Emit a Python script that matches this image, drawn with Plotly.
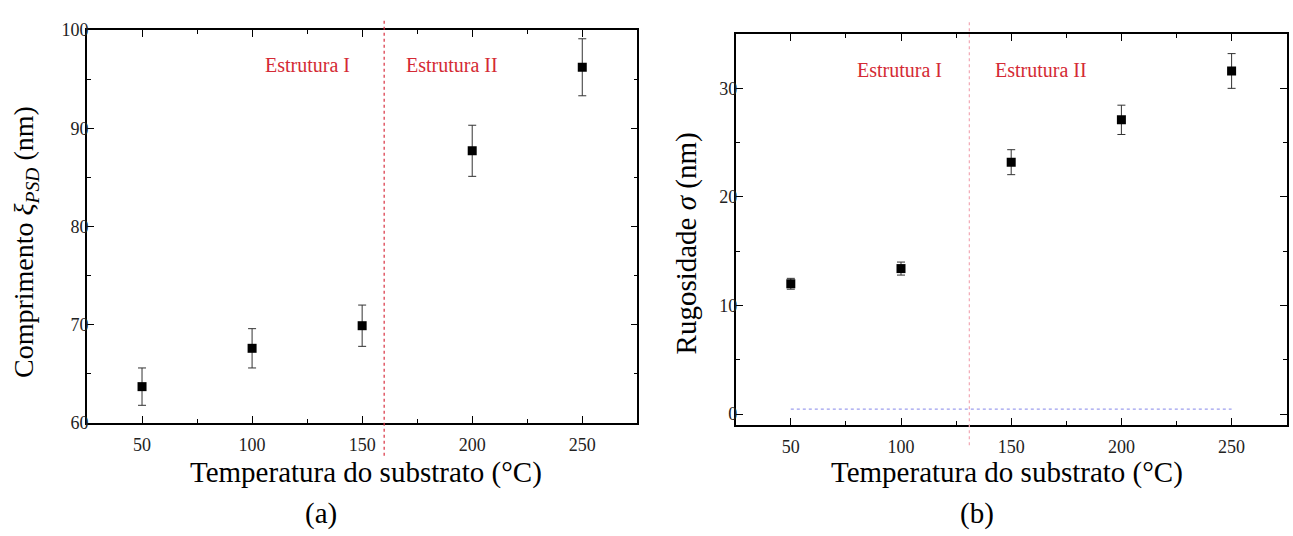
import plotly.graph_objects as go

# ---- data ----
temps = [50, 100, 150, 200, 250]
xi_psd = [63.7, 67.6, 69.9, 87.7, 96.2]
xi_err = [1.9, 2.0, 2.1, 2.6, 2.9]
sigma = [12.0, 13.4, 23.2, 27.1, 31.6]
sigma_err = [0.5, 0.6, 1.15, 1.35, 1.6]
boundary_a = 160
boundary_b = 131
baseline_b = 0.45
xticks = [50, 100, 150, 200, 250]
yticks_a = [60, 70, 80, 90, 100]
yticks_b = [0, 10, 20, 30]

W, H = 1293, 536
FONT = "Liberation Serif"
RED = "#d42a34"

def px_x(p):
    return p / W

def px_y(p):
    return (H - p) / H

fig = go.Figure()

fig.add_trace(go.Scatter(
    x=temps, y=xi_psd, mode="markers", xaxis="x", yaxis="y",
    marker=dict(symbol="square", size=9, color="black"),
    error_y=dict(type="data", array=xi_err, visible=True, color="#333333", thickness=1, width=4),
    showlegend=False))

fig.add_trace(go.Scatter(
    x=temps, y=sigma, mode="markers", xaxis="x2", yaxis="y2",
    marker=dict(symbol="square", size=9, color="black"),
    error_y=dict(type="data", array=sigma_err, visible=True, color="#333333", thickness=1, width=4),
    showlegend=False))

# horizontal dotted baseline on (b)
fig.add_trace(go.Scatter(
    x=[temps[0], temps[-1]], y=[baseline_b, baseline_b], mode="lines", xaxis="x2", yaxis="y2",
    line=dict(color="#9d9fee", width=1.2, dash="dot"), showlegend=False, hoverinfo="skip"))

axis_common = dict(
    showline=True, linecolor="black", linewidth=1.6, mirror="allticks",
    ticks="inside", ticklen=7, tickwidth=1.2, tickcolor="black",
    showgrid=False, zeroline=False,
    tickfont=dict(family=FONT, size=18, color="#222222"),
    minor=dict(ticks="inside", ticklen=4, tickwidth=1.2, tickcolor="black"),
)

fig.update_layout(
    width=W, height=H,
    margin=dict(l=0, r=0, t=0, b=0),
    paper_bgcolor="white", plot_bgcolor="white",
    xaxis=dict(domain=[px_x(87), px_x(637.3)], range=[25, 275], anchor="y",
               tickvals=xticks, minor_dtick=25, minor_tick0=25, ticklabelstandoff=5, **axis_common),
    yaxis=dict(domain=[px_y(429), px_y(20.7)], range=[60, 100], anchor="x",
               tickvals=yticks_a, minor_dtick=5, minor_tick0=0, ticklabelstandoff=-7, **axis_common),
    xaxis2=dict(domain=[px_x(735.7), px_x(1286.7)], range=[25, 275], anchor="y2",
                tickvals=xticks, minor_dtick=25, minor_tick0=25, ticklabelstandoff=5, **axis_common),
    yaxis2=dict(domain=[px_y(431), px_y(25)], range=[-1, 35], anchor="x2",
                tickvals=yticks_b, minor_dtick=5, minor_tick0=0, ticklabelstandoff=-7, **axis_common),
)

# boundary lines
fig.add_shape(type="line", xref="x", yref="paper", x0=boundary_a, x1=boundary_a,
              y0=px_y(463), y1=px_y(10), line=dict(color="#d83040", width=1.2, dash="dot"))
fig.add_shape(type="line", xref="x2", yref="paper", x0=boundary_b, x1=boundary_b,
              y0=px_y(452), y1=px_y(10), line=dict(color="#f2a8b4", width=1.2, dash="dot"))

# region labels
for xr, yr, xv, yv, txt in [
    ("x", "y", 125.3, 96.4, "Estrutura I"),
    ("x", "y", 191.0, 96.4, "Estrutura II"),
    ("x2", "y2", 99.1, 31.7, "Estrutura I"),
    ("x2", "y2", 163.5, 31.7, "Estrutura II"),
]:
    fig.add_annotation(xref=xr, yref=yr, x=xv, y=yv, text=txt, showarrow=False,
                       font=dict(family=FONT, size=20, color=RED))

# axis titles and panel labels
titles = [
    (366, 480, "Temperatura do substrato (°C)", 0, 29),
    (1007, 480, "Temperatura do substrato (°C)", 0, 29),
    (321, 523, "(a)", 0, 29),
    (977, 523, "(b)", 0, 29),
    (25, 241, "Comprimento <i>ξ</i><sub><i>PSD</i></sub> (nm)", -90, 28),
    (686, 242.5, "Rugosidade <i>σ</i> (nm)", -90, 29),
]
for xp, yp, txt, ang, fs in titles:
    fig.add_annotation(xref="paper", yref="paper", x=px_x(xp), y=px_y(yp), text=txt,
                       showarrow=False, textangle=ang, xanchor="center", yanchor="middle",
                       font=dict(family=FONT, size=fs, color="black"))

fig.write_html("out.html")
